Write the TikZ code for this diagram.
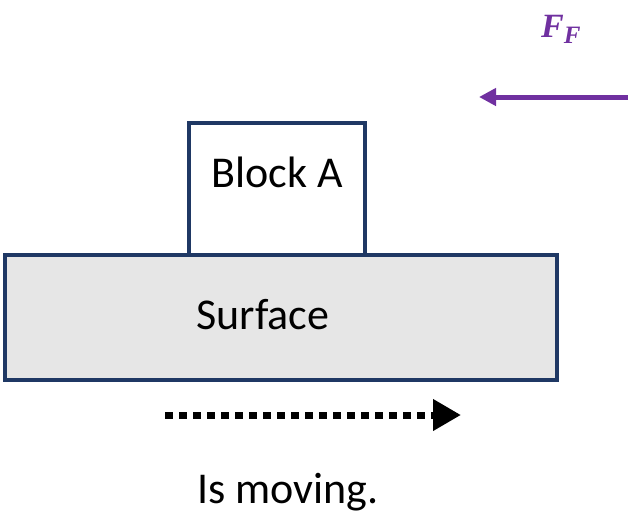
\documentclass[tikz,border=0pt]{standalone}
\usepackage{fontspec}
\setmainfont{Carlito}
\newfontfamily\forcefont{Liberation Serif}
\usetikzlibrary{arrows.meta}
\definecolor{navyedge}{HTML}{1F3864}
\definecolor{surfacegray}{HTML}{E6E6E6}
\definecolor{forcepurple}{HTML}{7030A0}
\tikzset{
  boxpart/.style={draw=navyedge, line width=3.5pt, inner sep=0pt},
  bigtext/.style={font=\fontsize{44}{52}\selectfont},
}
\begin{document}
\begin{tikzpicture}[x=1pt,y=-1pt]
  \useasboundingbox (0,0) rectangle (628,517);
  % block resting on the surface
  \draw[boxpart, fill=white] (189,123) rectangle (365,255);
  \node[bigtext] (blocklabel) at (277,172) {Block A};
  \draw[boxpart, fill=surfacegray] (5,255) rectangle (557,380);
  \node[bigtext] (surfacelabel) at (263,315) {Surface};
  % motion indicator
  \coordinate (mstart) at (165,415);
  \coordinate (mend) at (461,415);
  \draw[line width=7pt, dash pattern=on 8pt off 6pt,
        -{Triangle[length=28pt,width=30pt]}] (mstart) -- (mend);
  \node[bigtext, anchor=base] (movelabel) at (288,503) {Is moving.};
  % friction force
  \coordinate (fstart) at (628,97);
  \coordinate (fend) at (479,97);
  \draw[forcepurple, line width=5pt,
        -{Triangle[length=17pt,width=17pt]}] (fstart) -- (fend);
  \node[text=forcepurple, anchor=base west, inner sep=0pt,
        font=\forcefont\bfseries\itshape\fontsize{34}{40}\selectfont] (flabel) at (541,37)
        {F\raisebox{-6pt}{\fontsize{25}{30}\selectfont F}};
\end{tikzpicture}
\end{document}
